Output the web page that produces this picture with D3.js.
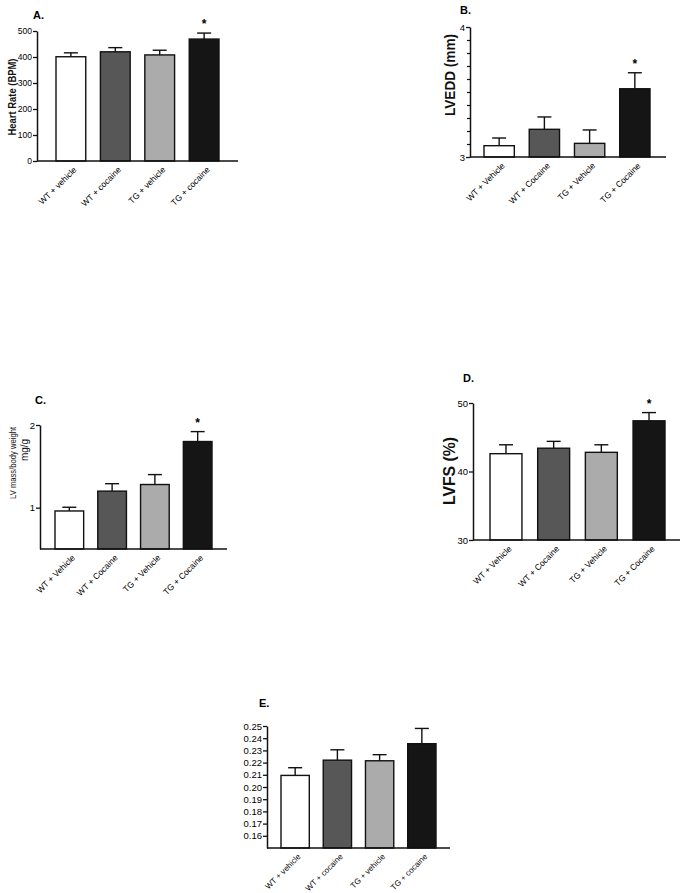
<!DOCTYPE html>
<html>
<head>
<meta charset="utf-8">
<script src="https://cdn.jsdelivr.net/npm/d3@7/dist/d3.min.js"></script>
<style>
    html, body { margin: 0; padding: 0; background: #fff; }
    svg { display: block; font-family: "Liberation Sans", Arial, sans-serif; }
</style>
</head>
<body>
<svg id="fig" width="685" height="893"></svg>
<script>
// 分组标签
const groupsLower = ['WT + vehicle', 'WT + cocaine', 'TG + vehicle', 'TG + cocaine'];
const groupsUpper = ['WT + Vehicle', 'WT + Cocaine', 'TG + Vehicle', 'TG + Cocaine'];
const starred = [false, false, false, true];

// A. 心率
const heartRate = [401, 420, 408, 469];
const heartRateSem = [15, 16, 18, 23];
const ticksA = [0, 100, 200, 300, 400, 500];

// B. LVEDD
const lvedd = [3.087, 3.213, 3.105, 3.525];
const lveddSem = [0.059, 0.095, 0.103, 0.123];
const ticksB = [3, 4];
const minorTicksB = [3.1, 3.2, 3.3, 3.4, 3.5, 3.6, 3.7, 3.8, 3.9];

// C. LV mass / body weight
const lvMass = [0.96, 1.20, 1.28, 1.80];
const lvMassSem = [0.045, 0.09, 0.12, 0.12];
const ticksC = [1, 2];

// D. LVFS
const lvfs = [42.6, 43.4, 42.8, 47.4];
const lvfsSem = [1.3, 1.0, 1.1, 1.2];
const ticksD = [30, 40, 50];

// E.
const valuesE = [0.2095, 0.222, 0.2215, 0.2355];
const valuesESem = [0.0063, 0.0085, 0.005, 0.0125];
const ticksE = [0.16, 0.17, 0.18, 0.19, 0.20, 0.21, 0.22, 0.23, 0.24, 0.25];

// 样式
const Style = {
    fills: ['#ffffff', '#575757', '#ababab', '#151515'],
    stroke: '#111',
    barStroke: 1.4,
    axisStroke: 1.5,
    capHalf: 7
};

// 各面板布局
const panels = [
    {
        tag: 'A.', tagX: 33, tagY: 19,
        groups: groupsLower, values: heartRate, sem: heartRateSem,
        domain: [0, 500], yRange: [161, 31], axisX: 37, axisEnd: 238, bars: [56, 219],
        ticks: ticksA, fmt: d3.format('d'), labelSize: 8.5, tickSize: 8.5,
        yLabel: [{ text: 'Heart Rate (BPM)', x: 12, y: 97, size: 10, bold: true, len: 77 }]
    },
    {
        tag: 'B.', tagX: 460, tagY: 14,
        groups: groupsUpper, values: lvedd, sem: lveddSem,
        domain: [3, 4], yRange: [157, 27], axisX: 470, axisEnd: 666, bars: [484, 650],
        ticks: ticksB, minor: minorTicksB, fmt: d3.format('d'), labelSize: 8.5, tickSize: 9.5,
        yLabel: [{ text: 'LVEDD (mm)', x: 450, y: 75, size: 14, bold: true, len: 82 }]
    },
    {
        tag: 'C.', tagX: 35, tagY: 404,
        groups: groupsUpper, values: lvMass, sem: lvMassSem,
        domain: [0.5, 2], yRange: [549, 425], axisX: 40, axisEnd: 227, bars: [55, 212],
        ticks: ticksC, fmt: d3.format('d'), labelSize: 8.5, tickSize: 9.5,
        yLabel: [
            { text: 'LV mass/body weight', x: 13, y: 463, size: 9.5, bold: false, len: 72 },
            { text: 'mg/g', x: 24, y: 450, size: 10, bold: false }
        ]
    },
    {
        tag: 'D.', tagX: 463, tagY: 382,
        groups: groupsUpper, values: lvfs, sem: lvfsSem,
        domain: [30, 50], yRange: [540, 403], axisX: 473, axisEnd: 680, bars: [490, 665],
        ticks: ticksD, fmt: d3.format('d'), labelSize: 8.5, tickSize: 9.5,
        yLabel: [{ text: 'LVFS (%)', x: 449, y: 471, size: 17, bold: true, len: 68 }]
    },
    {
        tag: 'E.', tagX: 259, tagY: 707,
        groups: groupsLower, values: valuesE, sem: valuesESem, noStars: true,
        domain: [0.15, 0.25], yRange: [848, 726], axisX: 267, axisEnd: 450, bars: [281, 436],
        ticks: ticksE, fmt: d3.format('.2f'), labelSize: 8, tickSize: 9.5,
        yLabel: []
    }
];

const svg = d3.select('#fig');

function drawPanel(p) {
    const g = svg.append('g');

    const y = d3.scaleLinear().domain(p.domain).range(p.yRange);
    const x = d3.scaleBand()
        .domain(p.groups)
        .range(p.bars)
        .paddingInner(0.33)
        .paddingOuter(0);
    const base = y(p.domain[0]);

    // 面板字母
    g.append('text')
        .attr('x', p.tagX).attr('y', p.tagY)
        .attr('font-size', 11).attr('font-weight', 'bold')
        .text(p.tag);

    // 误差线（只画上半部）
    const rows = p.groups.map((k, i) => ({ k, i, v: p.values[i], e: p.sem[i] }));
    const err = g.append('g').attr('stroke', Style.stroke).attr('stroke-width', 1.4);
    rows.forEach(d => {
        const cx = x(d.k) + x.bandwidth() / 2;
        err.append('line')
            .attr('x1', cx).attr('x2', cx)
            .attr('y1', y(d.v)).attr('y2', y(d.v + d.e));
        err.append('line')
            .attr('x1', cx - Style.capHalf).attr('x2', cx + Style.capHalf)
            .attr('y1', y(d.v + d.e)).attr('y2', y(d.v + d.e));
    });

    // 柱子
    g.append('g').selectAll('rect')
        .data(rows)
        .enter().append('rect')
        .attr('x', d => x(d.k))
        .attr('width', x.bandwidth())
        .attr('y', d => y(d.v))
        .attr('height', d => base - y(d.v))
        .attr('fill', d => Style.fills[d.i])
        .attr('stroke', Style.stroke)
        .attr('stroke-width', Style.barStroke);

    // 星号
    if (!p.noStars) {
        g.append('g').selectAll('text')
            .data(rows.filter(d => starred[d.i]))
            .enter().append('text')
            .attr('x', d => x(d.k) + x.bandwidth() / 2)
            .attr('y', d => y(d.v + d.e) - 5)
            .attr('text-anchor', 'middle')
            .attr('font-size', 12).attr('font-weight', 'bold')
            .text('*');
    }

    // y 轴
    if (p.minor) {
        g.append('g')
            .attr('transform', `translate(${p.axisX},0)`)
            .call(d3.axisLeft(y).tickValues(p.minor).tickSize(3).tickFormat(''))
            .call(a => a.select('.domain').remove())
            .call(a => a.selectAll('line').attr('stroke', Style.stroke).attr('stroke-width', 1.2));
    }
    const yAxis = g.append('g')
        .attr('transform', `translate(${p.axisX},0)`)
        .call(d3.axisLeft(y).tickValues(p.ticks).tickFormat(p.fmt).tickSize(4).tickSizeOuter(0).tickPadding(1));
    yAxis.select('.domain').attr('stroke', Style.stroke).attr('stroke-width', Style.axisStroke);
    yAxis.selectAll('.tick line').attr('stroke', Style.stroke).attr('stroke-width', 1.3);
    yAxis.selectAll('.tick text')
        .attr('font-family', '"Liberation Sans", Arial, sans-serif')
        .attr('font-size', p.tickSize).attr('fill', '#000');

    // x 轴线
    g.append('line')
        .attr('x1', p.axisX).attr('x2', p.axisEnd)
        .attr('y1', base).attr('y2', base)
        .attr('stroke', Style.stroke).attr('stroke-width', Style.axisStroke);

    // x 分类标签（45 度）
    g.append('g').selectAll('text')
        .data(rows)
        .enter().append('text')
        .attr('transform', d => `translate(${x(d.k) + x.bandwidth() / 2 + 2},${base + 5}) rotate(-45)`)
        .attr('text-anchor', 'end')
        .attr('dy', '0.71em')
        .attr('font-size', p.labelSize).attr('fill', '#000')
        .text(d => d.k);

    // y 轴标题
    p.yLabel.forEach(l => {
        const t = g.append('text')
            .attr('transform', `translate(${l.x},${l.y}) rotate(-90)`)
            .attr('text-anchor', 'middle')
            .attr('dy', '0.35em')
            .attr('font-size', l.size)
            .attr('font-weight', l.bold ? 'bold' : 'normal')
            .attr('fill', '#111')
            .text(l.text);
        if (l.len) t.attr('textLength', l.len).attr('lengthAdjust', 'spacingAndGlyphs');
    });
}

panels.forEach(drawPanel);
</script>
</body>
</html>
